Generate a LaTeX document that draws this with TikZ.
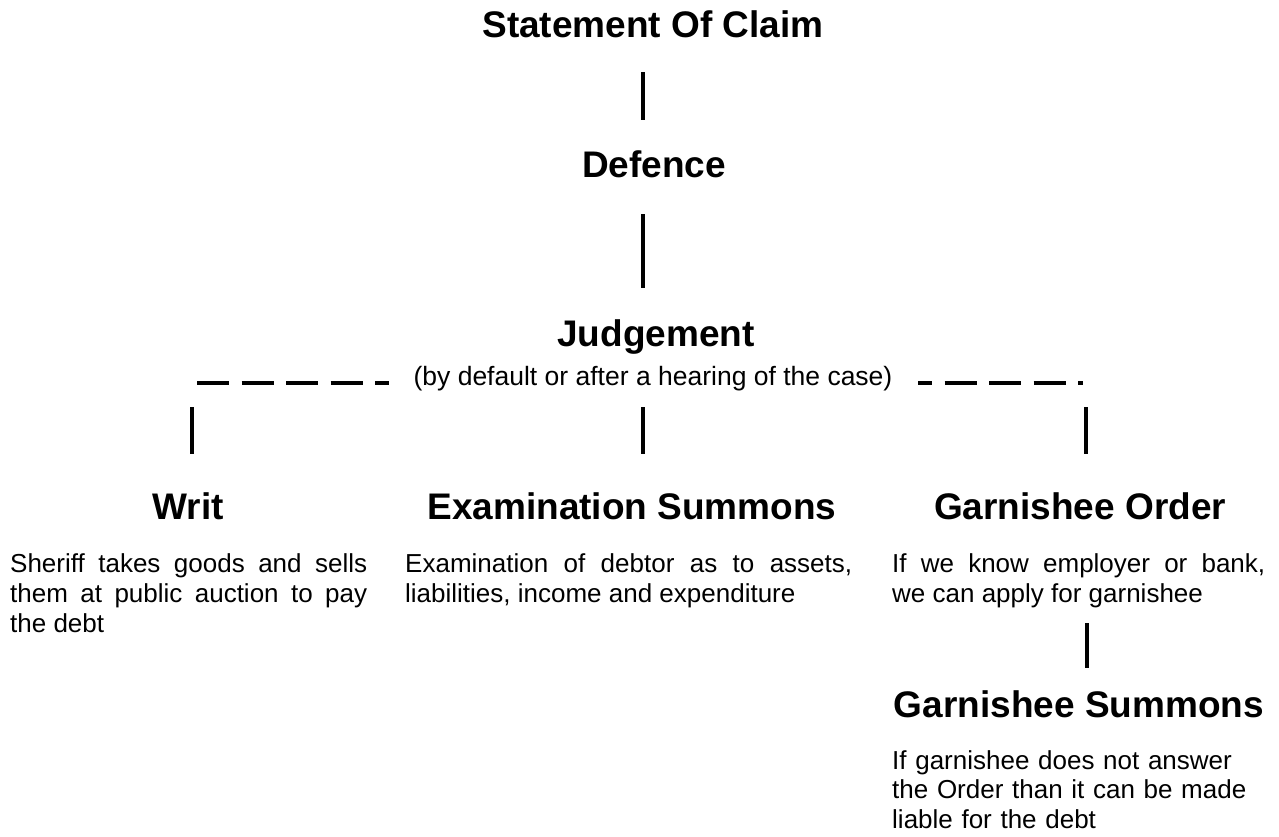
\documentclass[tikz,border=0pt]{standalone}
\usepackage{fontspec}
\setmainfont{Liberation Sans}
\begin{document}
\begin{tikzpicture}[x=1pt,y=-1pt,
  head/.style={anchor=base, inner sep=0pt, font=\fontsize{37}{40}\selectfont\bfseries},
  subtxt/.style={anchor=base, inner sep=0pt, font=\fontsize{26.5}{30}\selectfont},
  para/.style={anchor=base west, inner sep=0pt, align=justify, font=\fontsize{26}{30}\selectfont},
  rpara/.style={anchor=base west, inner sep=0pt, align=left, font=\fontsize{26}{29.5}\selectfont},
  conn/.style={line width=3.5pt, line cap=butt},
  dashconn/.style={line width=3.5pt, line cap=butt, dash pattern=on 32pt off 12.5pt}]
\fill[white] (0,0) rectangle (1279,836);
\useasboundingbox (0,0) rectangle (1279,836);

% headings
\node[head] (soc) at (653,37) {Statement Of Claim};
\node[head] (def) at (654,177) {Defence};
\node[head] (jud) at (656,346) {Judgement};
\node[subtxt] (judsub) at (653,385) {(by default or after a hearing of the case)};
\node[head] (writ) at (188,519) {Writ};
\node[head] (exam) at (632,519) {Examination Summons};
\node[head] (gord) at (1080,519) {Garnishee Order};
\node[head] (gsum) at (1079,717) {Garnishee Summons};

% paragraphs
\node[para, text width=357pt] (writtxt) at (10,572)
  {Sheriff takes goods and sells\linebreak them at public auction to pay\linebreak the debt};
\node[para, text width=447pt] (examtxt) at (405,572)
  {Examination of debtor as to assets,\linebreak liabilities, income and expenditure};
\node[para, text width=373pt] (gordtxt) at (892,572)
  {If we know employer or bank,\linebreak we can apply for garnishee};
\node[rpara, text width=380pt] (gsumtxt) at (892,769)
  {If garnishee does not answer\\the Order than it can be made\\liable for the debt};

% connector end points
\coordinate (a1) at (643,72);   \coordinate (a2) at (643,120);
\coordinate (b1) at (643,214);  \coordinate (b2) at (643,288);
\coordinate (dl1) at (197,383); \coordinate (dl2) at (389,383);
\coordinate (dr1) at (918,383); \coordinate (dr2) at (1083,383);
\coordinate (w1) at (192,407);  \coordinate (w2) at (192,454);
\coordinate (e1) at (643,407);  \coordinate (e2) at (643,454);
\coordinate (g1) at (1086,407); \coordinate (g2) at (1086,454);
\coordinate (h1) at (1087,623); \coordinate (h2) at (1087,668);

\draw[conn] (a1) -- (a2);
\draw[conn] (b1) -- (b2);
\draw[dashconn] (dl1) -- (dl2);
\draw[dashconn, dash phase=18pt] (dr1) -- (dr2);
\draw[conn] (w1) -- (w2);
\draw[conn] (e1) -- (e2);
\draw[conn] (g1) -- (g2);
\draw[conn] (h1) -- (h2);
\end{tikzpicture}
\end{document}
